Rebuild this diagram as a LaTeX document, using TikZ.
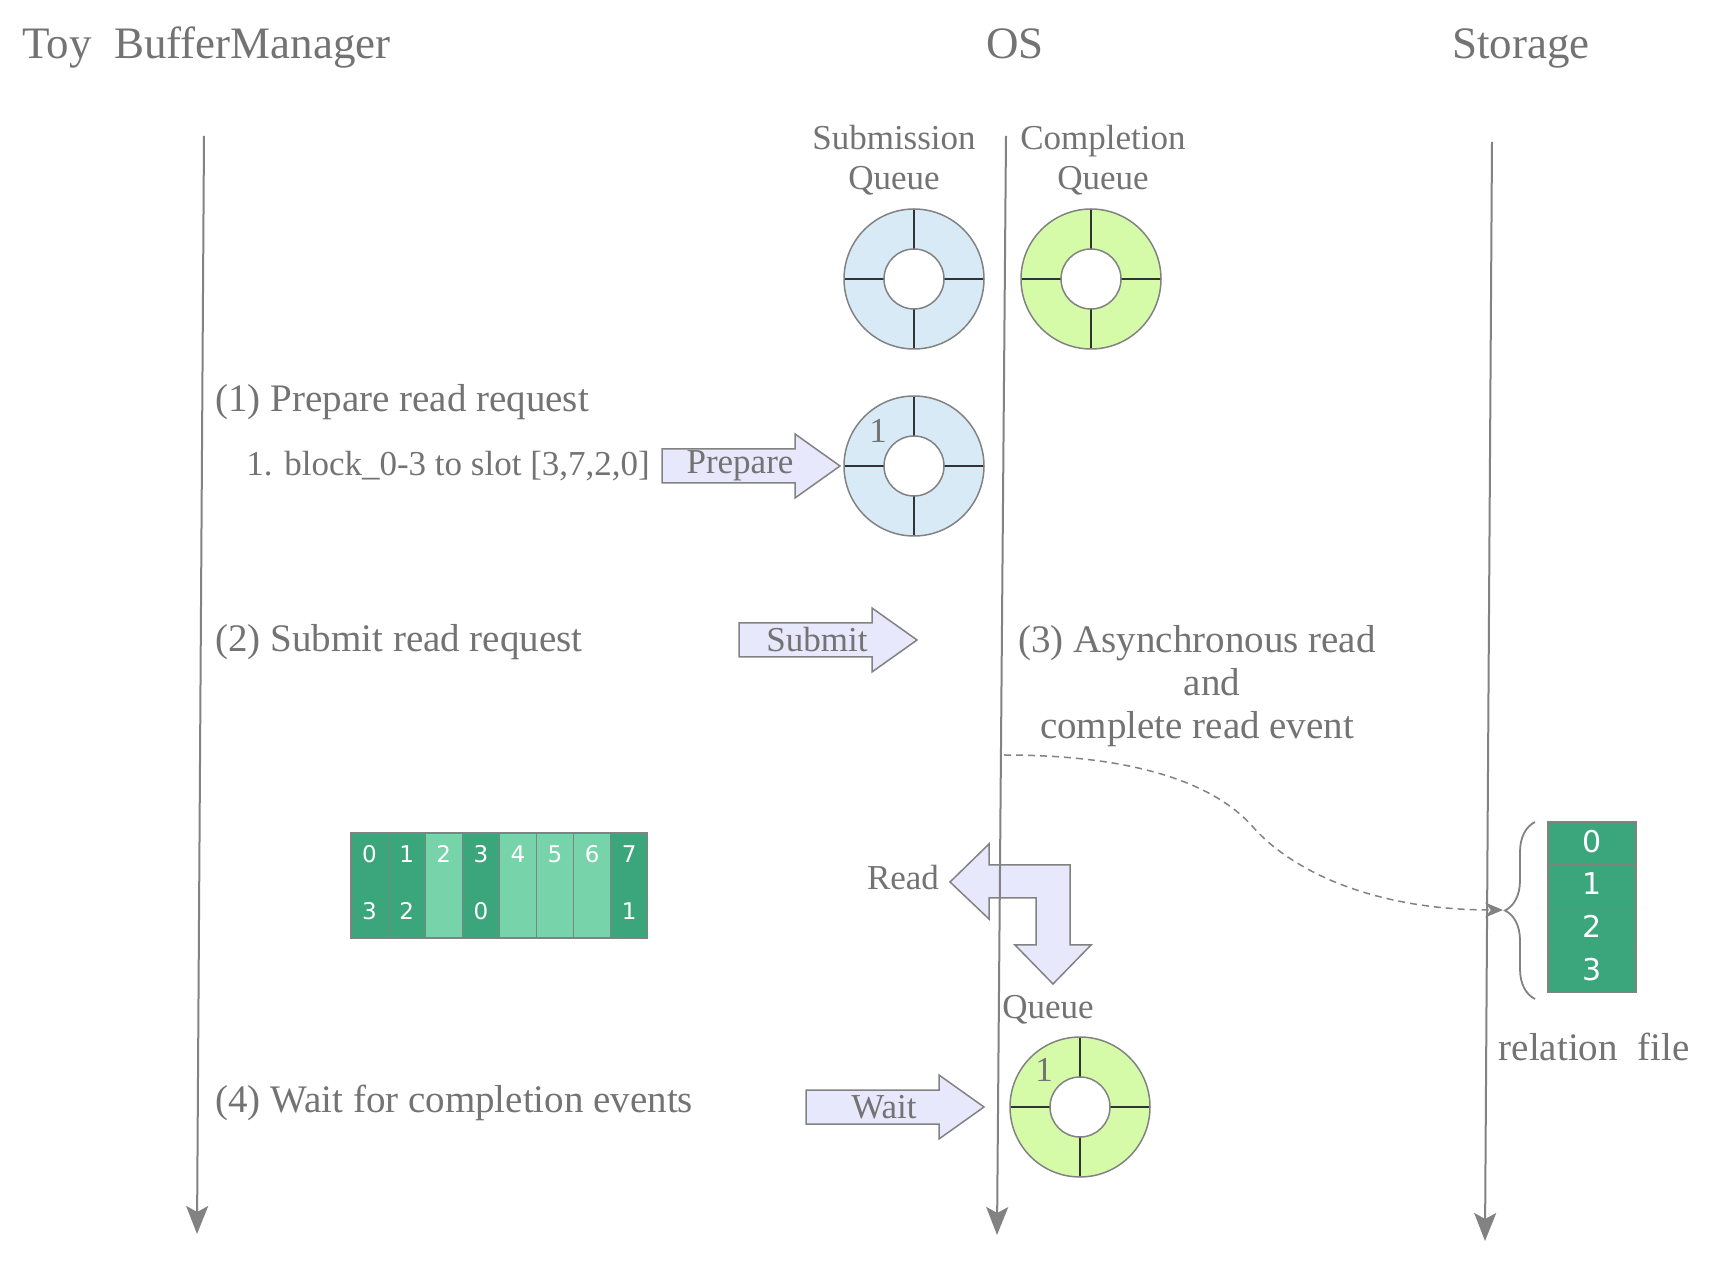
\documentclass[tikz,border=0pt]{standalone}
\usepackage{fontspec}
\setmainfont{Liberation Serif}
\newfontfamily\digitfont{DejaVu Sans}
\usetikzlibrary{decorations.pathreplacing}
\usetikzlibrary{positioning, arrows.meta, calc}

\definecolor{txtgray}{HTML}{737373}
\definecolor{linegray}{HTML}{828282}
\definecolor{sqblue}{HTML}{D8EAF5}
\definecolor{cqgreen}{HTML}{D5FBA9}
\definecolor{arrowfill}{HTML}{E8E8FC}
\definecolor{slotdark}{HTML}{3BA57B}
\definecolor{slotlight}{HTML}{76D3AA}

\begin{document}
\begin{tikzpicture}[
        x=0.5pt, y=-0.5pt,
        >={Stealth[length=14pt, width=11pt, inset=3pt]},
        title/.style={text=txtgray, inner sep=0pt, anchor=base, font=\fontsize{22.5}{27}\selectfont},
        steplabel/.style={text=txtgray, inner sep=0pt, anchor=west, font=\fontsize{19.5}{21.5}\selectfont},
        smalllabel/.style={text=txtgray, inner sep=0pt, font=\fontsize{17.5}{20}\selectfont},
        lifeline/.style={draw=linegray, line width=1pt, ->},
        ring/.style={draw=linegray, line width=0.75pt},
        divider/.style={draw=black!80, line width=0.9pt},
        blockarrow/.style={draw=linegray, fill=arrowfill, line width=0.75pt, line join=miter},
        slot/.style={draw=linegray, line width=0.6pt},
        slotnum/.style={text=white, inner sep=0pt, font=\digitfont\fontsize{11.5}{13}\selectfont},
        relnum/.style={text=white, inner sep=0pt, font=\digitfont\fontsize{15}{17}\selectfont}
    ]
    \useasboundingbox (0,0) rectangle (1710,1288);

    % --- 参数 ---
    \def\Rout{35pt}    % 环外半径
    \def\Rin{15pt}     % 环内半径
    \def\SlotW{37.1}   % 缓冲槽宽度

    % --- 标题 ---
    \node[title, anchor=base west] (bm title) at (22,59) {Toy\ \ BufferManager};
    \node[title] (os title) at (1015,59) {OS};
    \node[title] (st title) at (1521,59) {Storage};

    % --- 生命线端点 ---
    \coordinate (bm top) at (204,136);
    \coordinate (bm end) at (197,1234);
    \coordinate (os top) at (1006,136);
    \coordinate (os end) at (997,1235);
    \coordinate (st top) at (1492,142);
    \coordinate (st end) at (1485,1241);

    % --- 环形队列 ---
    \coordinate (sq) at (914,279);
    \coordinate (cq) at (1091,279);
    \coordinate (sq prep) at (914,466);
    \coordinate (cq wait) at (1080,1107);

    \foreach \c/\col in {sq/sqblue, cq/cqgreen, sq prep/sqblue, cq wait/cqgreen} {
        \fill[\col, even odd rule] (\c) circle (\Rout) (\c) circle (\Rin);
        \foreach \a in {0,90,180,270}
            \draw[divider] (\c) ++(\a:\Rin) -- ++(\a:20pt);
        \draw[ring] (\c) circle (\Rout) (\c) circle (\Rin);
    }

    \node[smalllabel, align=center] (sq label) at (894,160) {Submission\\Queue};
    \node[smalllabel, align=center] (cq label) at (1103,160) {Completion\\Queue};
    \node[smalllabel] (sq prep num) at ($(sq prep)+(-36,-35)$) {1};
    \node[smalllabel] (cq wait num) at ($(cq wait)+(-36,-37)$) {1};

    % --- 步骤说明 ---
    \node[steplabel] (step1) at (215,402) {(1) Prepare read request};
    \node[smalllabel, anchor=west] (step1 sub) at (246,466) {1. block\_0-3 to slot [3,7,2,0]};
    \node[steplabel] (step2) at (215,642) {(2) Submit read request};
    \node[steplabel, anchor=center, align=center] (step3) at (1197,686)
        {(3) Asynchronous read\\\hspace*{15pt}and\\complete read event};
    \node[steplabel] (step4) at (215,1103) {(4) Wait for completion events};

    % --- 块箭头 ---
    \foreach \xa/\ya/\name in {662/466/Prepare, 739/640/Submit, 806/1107/Wait} {
        \draw[blockarrow] (\xa,\ya-17) -- ++(133,0) -- ++(0,-15) -- (\xa+178,\ya)
            -- (\xa+133,\ya+32) -- ++(0,-15) -- (\xa,\ya+17) -- cycle;
        \node[smalllabel] (arrow \name) at (\xa+78,\ya) {\name};
    }

    % 读取 / 入队 折线箭头
    \draw[blockarrow] (1070,865) -- (1070,945) -- (1091,945) -- (1053,984) -- (1015,945)
        -- (1036,945) -- (1036,898) -- (989,898) -- (989,919) -- (950,882) -- (989,844)
        -- (989,865) -- cycle;
    \node[smalllabel] (read lbl) at (903,878) {Read};
    \node[smalllabel] (queue lbl) at (1048,1010) {Queue};

    % --- 缓冲槽 ---
    \foreach \i/\col/\blk in {0/slotdark/3, 1/slotdark/2, 2/slotlight/, 3/slotdark/0,
                             4/slotlight/, 5/slotlight/, 6/slotlight/, 7/slotdark/1} {
        \draw[slot, fill=\col] (351+\i*\SlotW,833) rectangle ++(\SlotW,105);
        \node[slotnum] (slot\i) at (351+\i*\SlotW+\SlotW/2,854) {\i};
        \node[slotnum] (blk\i) at (351+\i*\SlotW+\SlotW/2,911) {\blk};
    }

    % --- 关系文件 ---
    \foreach \i in {0,...,3} {
        \draw[slot, fill=slotdark] (1548,822+\i*42.6) rectangle ++(88,42.6);
        \node[relnum] (file\i) at (1592,820+\i*42.6+21.3) {\i};
    }
    \node[steplabel, anchor=center] (rel label) at (1594,1047) {relation\ \ file};
    \draw[linegray, line width=0.9pt, decorate, decoration={brace, amplitude=15pt}]
        (1535,999) -- (1535,822);
    \coordinate (brace tip) at (1503,910);

    % --- 异步读取 (虚线) ---
    \coordinate (os read) at (1004,755);
    \coordinate (read mid) at (1253,827);
    \draw[linegray, line width=0.75pt, dash pattern=on 3.5pt off 2.5pt,
          -{Stealth[length=9pt, width=7.5pt]}]
        (os read) .. controls (1160,755) and (1225,795) .. (read mid)
        .. controls (1290,869) and (1370,910) .. (brace tip);

    % --- 生命线 ---
    \draw[lifeline] (bm top) -- (bm end);
    \draw[lifeline] (os top) -- (os end);
    \draw[lifeline] (st top) -- (st end);

\end{tikzpicture}
\end{document}
